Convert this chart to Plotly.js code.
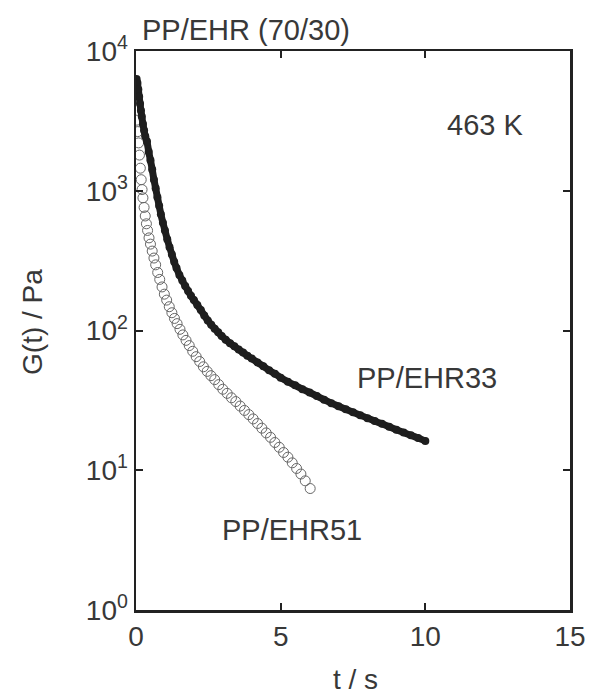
<!DOCTYPE html>
<html>
<head>
<meta charset="utf-8">
<script src="https://cdn.plot.ly/plotly-3.0.1.min.js"></script>
<style>html,body{margin:0;padding:0;background:#fff;}#chart{width:603px;height:694px;}</style>
</head>
<body>
<div id="chart"></div>
<script>
// PP/EHR33 (filled circles)
const t33 = [0.02,0.05,0.08,0.11,0.14,0.17,0.20,0.24,0.28,0.32,0.38,0.44,0.50,0.56,0.62,0.68,0.74,0.80,0.86,0.93,1.00,1.08,1.16,1.24,1.32,1.40,1.50,1.60,1.70,1.80,1.90,2.00,2.12,2.24,2.36,2.48,2.60,2.72,2.84,2.96,3.10,3.25,3.40,3.55,3.70,3.85,4.00,4.20,4.40,4.60,4.80,5.00,5.25,5.50,5.75,6.00,6.25,6.50,6.75,7.00,7.25,7.50,7.75,8.00,8.25,8.50,8.75,9.00,9.25,9.50,9.75,10.00];
const g33 = [6300,5900,5300,4700,4200,3750,3400,3000,2700,2450,2250,1900,1650,1420,1200,1040,900,780,680,590,520,450,395,350,310,280,250,228,208,192,177,165,152,140,128,118,110,103,97,91.5,86,81,77,73,69.5,66,63,59,55.5,52,49,46,43,40.5,38,36,34,32,30.2,28.7,27.3,26,24.8,23.6,22.5,21.5,20.5,19.5,18.6,17.8,17,16.2];

// PP/EHR51 (open circles)
const t51 = [0.03,0.06,0.09,0.12,0.15,0.18,0.21,0.24,0.28,0.32,0.36,0.40,0.45,0.50,0.56,0.62,0.68,0.75,0.82,0.90,0.98,1.06,1.15,1.24,1.33,1.42,1.52,1.62,1.73,1.84,1.96,2.08,2.20,2.33,2.46,2.59,2.72,2.86,3.00,3.15,3.30,3.45,3.60,3.75,3.90,4.05,4.20,4.35,4.50,4.65,4.80,4.95,5.10,5.25,5.40,5.55,5.70,5.85,6.02];
const g51 = [3200,2650,2200,1800,1450,1200,1020,890,760,660,580,520,460,415,370,330,295,260,232,205,182,165,148,134,122,112,102,93,85,78,71,65,60,55,51,47.5,44.5,41,38,35.5,33,31,28.8,26.8,25,23.3,21.6,20,18.5,17.2,15.8,14.6,13.4,12.4,11.3,10.3,9.4,8.4,7.4];

const yTickVals = [1,10,100,1000,10000];
const yTickText = ['10<sup>0</sup>','10<sup>1</sup>','10<sup>2</sup>','10<sup>3</sup>','10<sup>4</sup>'];
const xTickVals = [0,5,10,15];

const txt = '#383838';
const fam = 'Liberation Sans, Arial, sans-serif';
const labelFont = {family: fam, size: 29, color: txt};
const tickFont = {family: fam, size: 28, color: txt};
const titleFont = {family: fam, size: 28, color: txt};

const traces = [
  {x: t51, y: g51, type: 'scatter', mode: 'markers', name: 'PP/EHR51',
   marker: {symbol: 'circle-open', size: 10, color: '#666666', line: {width: 1, color: '#666666'}}},
  {x: t33, y: g33, type: 'scatter', mode: 'lines+markers', name: 'PP/EHR33',
   line: {color: '#1e1e1e', width: 7, shape: 'spline', smoothing: 0.6},
   marker: {symbol: 'circle', size: 8, color: '#1e1e1e'}}
];

const axisCommon = {
  showline: true, linecolor: '#222', linewidth: 2.5, mirror: 'ticks',
  ticks: 'inside', ticklen: 7, tickwidth: 2, tickcolor: '#222',
  showgrid: false, zeroline: false, tickfont: tickFont
};

const layout = {
  width: 603, height: 694,
  margin: {l: 136, r: 33, t: 51, b: 84},
  paper_bgcolor: '#fff', plot_bgcolor: '#fff',
  showlegend: false,
  font: tickFont,
  xaxis: Object.assign({}, axisCommon, {
    range: [0, 15], tickvals: xTickVals, ticktext: xTickVals.map(String)
  }),
  yaxis: Object.assign({}, axisCommon, {
    type: 'log', range: [0, 4], tickvals: yTickVals, ticktext: yTickText
  }),
  annotations: [
    {text: 'PP/EHR (70/30)', xref: 'paper', yref: 'paper', x: 0.009, y: 1.0376, xanchor: 'left', yanchor: 'middle', showarrow: false, font: labelFont},
    {text: '463 K', xref: 'x', yref: 'paper', x: 10.68, y: 0.868, xanchor: 'left', yanchor: 'middle', showarrow: false, font: labelFont},
    {text: 'PP/EHR33', xref: 'x', yref: 'paper', x: 7.57, y: 0.415, xanchor: 'left', yanchor: 'middle', showarrow: false, font: labelFont},
    {text: 'PP/EHR51', xref: 'x', yref: 'paper', x: 2.9, y: 0.143, xanchor: 'left', yanchor: 'middle', showarrow: false, font: labelFont},
    {text: 'G(t) / Pa', xref: 'paper', yref: 'paper', x: -0.24, y: 0.515, xanchor: 'center', yanchor: 'middle', textangle: -90, showarrow: false, font: titleFont},
    {text: 't / s', xref: 'paper', yref: 'paper', x: 0.505, y: -0.125, xanchor: 'center', yanchor: 'middle', showarrow: false, font: titleFont}
  ]
};

Plotly.newPlot('chart', traces, layout, {displayModeBar: false, staticPlot: true});
</script>
</body>
</html>
